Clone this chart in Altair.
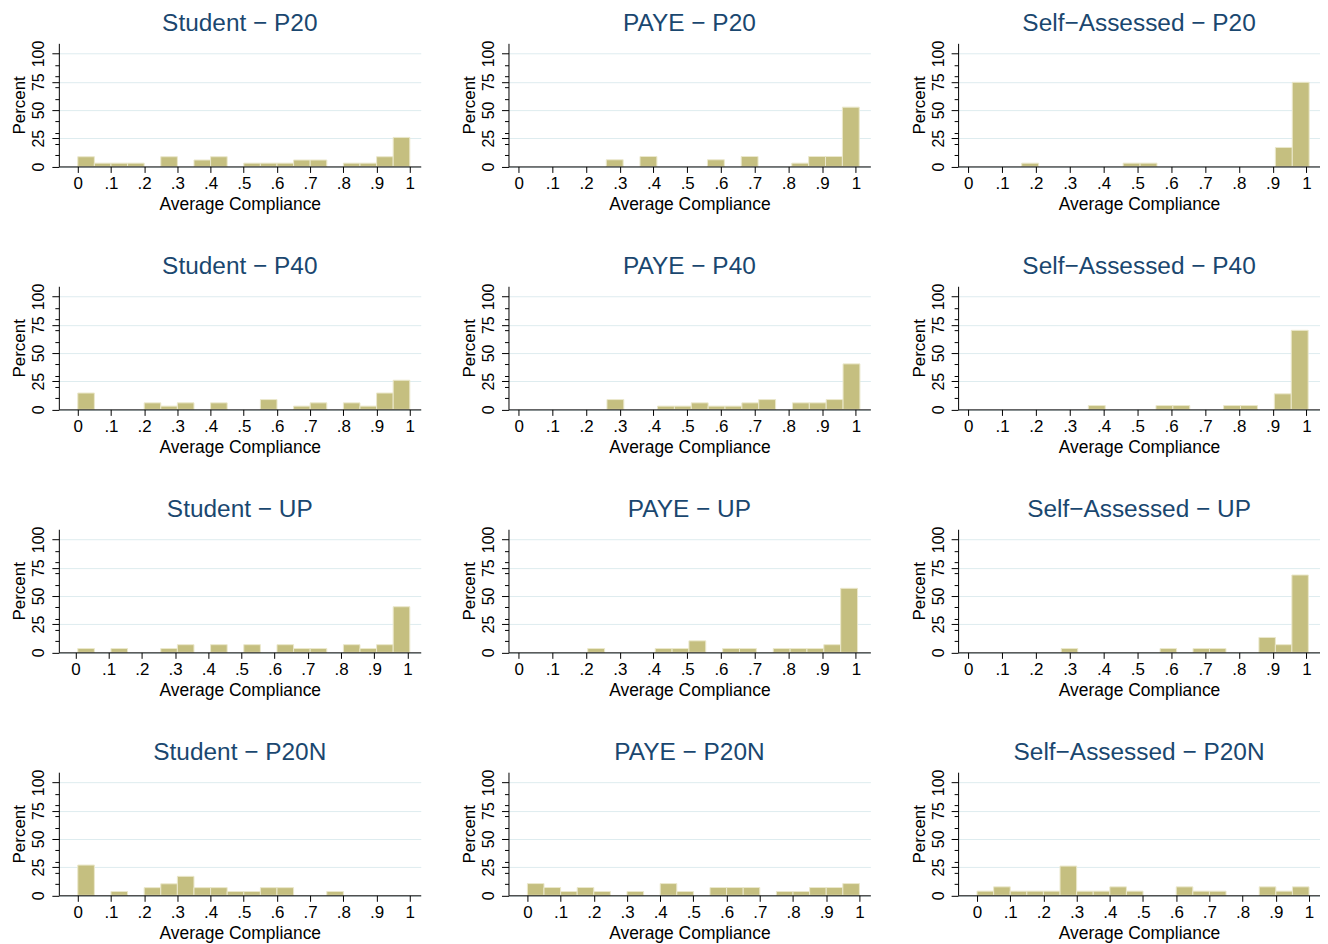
import altair as alt
import pandas as pd

FONT = "Liberation Sans"
BAR_FILL = "#c5bf80"
BAR_EDGE = "#ebe8cc"
GRID = "#deecef"
TITLE_COLOR = "#1a476f"

groups = ["Student", "PAYE", "Self\u2212Assessed"]
samples = ["P20", "P40", "UP", "P20N"]

# Percent of observations in each bin (bins of equal width, starting at each panel's bin start)
student_p20 = [8.6, 2.9, 2.9, 2.9, 0, 8.6, 0, 5.7, 8.6, 0, 2.9, 2.9, 2.9, 5.7, 5.7, 0, 2.9, 2.9, 8.6, 25.7]
paye_p20 = [5.9, 0, 8.8, 0, 0, 0, 5.9, 0, 8.8, 0, 0, 2.9, 8.8, 8.8, 52.5]
sa_p20 = [2.9, 0, 0, 0, 0, 0, 2.9, 2.9, 0, 0, 0, 0, 0, 0, 0, 16.8, 74.5]

student_p40 = [14.5, 0, 0, 0, 5.8, 2.9, 5.8, 0, 5.8, 0, 0, 8.7, 0, 2.9, 5.8, 0, 5.8, 2.9, 14.5, 25.8]
paye_p40 = [8.7, 0, 0, 2.9, 2.9, 5.8, 2.9, 2.9, 5.8, 8.7, 0, 5.8, 5.8, 8.7, 40.3]
sa_p40 = [3.4, 0, 0, 0, 3.4, 3.4, 0, 0, 3.4, 3.4, 0, 13.8, 70.0]

student_up = [3.4, 0, 3.4, 0, 0, 3.4, 6.8, 0, 6.8, 0, 6.8, 0, 6.8, 3.4, 3.4, 0, 6.8, 3.4, 6.8, 40.4]
paye_up = [3.4, 0, 0, 0, 3.4, 3.4, 10.2, 0, 3.4, 3.4, 0, 3.4, 3.4, 3.4, 6.8, 56.7]
sa_up = [3.4, 0, 0, 0, 0, 0, 3.4, 0, 3.4, 3.4, 0, 0, 13.2, 6.8, 68.5]

student_p20n = [26.8, 0, 3.4, 0, 6.8, 10.2, 16.8, 6.8, 6.8, 3.4, 3.4, 6.8, 6.8, 0, 0, 3.4, 0, 0, 0, 0]
paye_p20n = [10.4, 6.9, 3.4, 6.9, 3.4, 0, 3.4, 0, 10.4, 3.4, 0, 6.9, 6.9, 6.9, 0, 3.4, 3.4, 6.9, 6.9, 10.4]
sa_p20n = [3.7, 7.5, 3.7, 3.7, 3.7, 25.9, 3.7, 3.7, 7.5, 3.7, 0, 0, 7.5, 3.7, 3.7, 0, 0, 7.5, 3.7, 7.5]

hist = [
    [student_p20, paye_p20, sa_p20],
    [student_p40, paye_p40, sa_p40],
    [student_up, paye_up, sa_up],
    [student_p20n, paye_p20n, sa_p20n],
]
bin_start = [
    [0.0, 0.26, 0.158],
    [0.0, 0.262, 0.355],
    [0.007, 0.205, 0.275],
    [0.0, 0.0, 0.0],
]
bin_width = [
    [0.05, 0.05, 0.05],
    [0.05, 0.05, 0.05],
    [0.05, 0.05, 0.0487],
    [0.05, 0.05, 0.05],
]
x_lo = [
    [-0.057, -0.03, -0.03],
    [-0.057, -0.03, -0.03],
    [-0.05, -0.03, -0.03],
    [-0.057, -0.057, -0.057],
]
x_hi = [
    [1.033, 1.043, 1.04],
    [1.033, 1.043, 1.04],
    [1.04, 1.043, 1.04],
    [1.033, 1.033, 1.033],
]
x_ticks = [0, 0.1, 0.2, 0.3, 0.4, 0.5, 0.6, 0.7, 0.8, 0.9, 1]
y_major = [0, 25, 50, 75, 100]
y_minor = [10, 20, 30, 40, 60, 70, 80, 90]
y_max = 109

major_test = "datum.value % 25 === 0"

rows = []
for r in range(4):
    panels = []
    for c in range(3):
        recs = []
        for j, h in enumerate(hist[r][c]):
            if h > 0:
                x0 = bin_start[r][c] + j * bin_width[r][c]
                recs.append({"x0": x0, "x1": x0 + bin_width[r][c], "pct": h})
        df = pd.DataFrame(recs)
        xaxis = alt.Axis(
            values=x_ticks,
            labelExpr="datum.value == 0 ? '0' : datum.value == 1 ? '1' : replace(format(datum.value, '.1f'), '0.', '.')",
            title="Average Compliance",
            grid=False,
            tickSize=6,
            labelPadding=3,
            titlePadding=4,
            labelFontSize=17,
            titleFontSize=17.5,
            zindex=1,
        )
        yaxis = alt.Axis(
            values=sorted(y_major + y_minor),
            labelExpr=f"{major_test} ? datum.label : ''",
            title="Percent",
            grid=True,
            gridColor=GRID,
            gridWidth=1,
            gridOpacity={"condition": {"test": major_test, "value": 1}, "value": 0},
            tickSize={"condition": {"test": major_test, "value": 7}, "value": 4},
            labelAngle=-90,
            labelAlign="center",
            labelBaseline="alphabetic",
            labelPadding=8,
            labelFontSize=16,
            titleFontSize=17,
            minExtent=26,
            maxExtent=26,
            titlePadding=4,
        )
        ch = (
            alt.Chart(df)
            .mark_rect(color=BAR_FILL, stroke=BAR_EDGE, strokeWidth=1)
            .encode(
                x=alt.X("x0:Q", scale=alt.Scale(domain=[x_lo[r][c], x_hi[r][c]], nice=False, zero=False), axis=xaxis),
                x2="x1:Q",
                y=alt.Y("pct:Q", scale=alt.Scale(domain=[0, y_max], nice=False), axis=yaxis),
                y2=alt.datum(0),
            )
            .properties(
                width=363,
                height=123.5,
                title=alt.TitleParams(text=f"{groups[c]} \u2212 {samples[r]}"),
            )
        )
        panels.append(ch)
    rows.append(alt.hconcat(*panels, spacing=40))

chart = (
    alt.vconcat(*rows, spacing=40.7)
    .properties(padding={"left": 3, "top": 1, "right": 0, "bottom": 0}, background="white")
    .configure_view(strokeWidth=0)
    .configure_axis(
        labelFont=FONT,
        titleFont=FONT,
        labelColor="black",
        titleColor="black",
        titleFontWeight="normal",
        domainColor="black",
        tickColor="black",
        domainWidth=1,
        tickWidth=1,
    )
    .configure_title(
        font=FONT,
        fontSize=24.5,
        fontWeight="normal",
        color=TITLE_COLOR,
        anchor="middle",
        frame="group",
        offset=4,
    )
)

chart.save("out.html", embed_options={"renderer": "svg", "actions": False})
